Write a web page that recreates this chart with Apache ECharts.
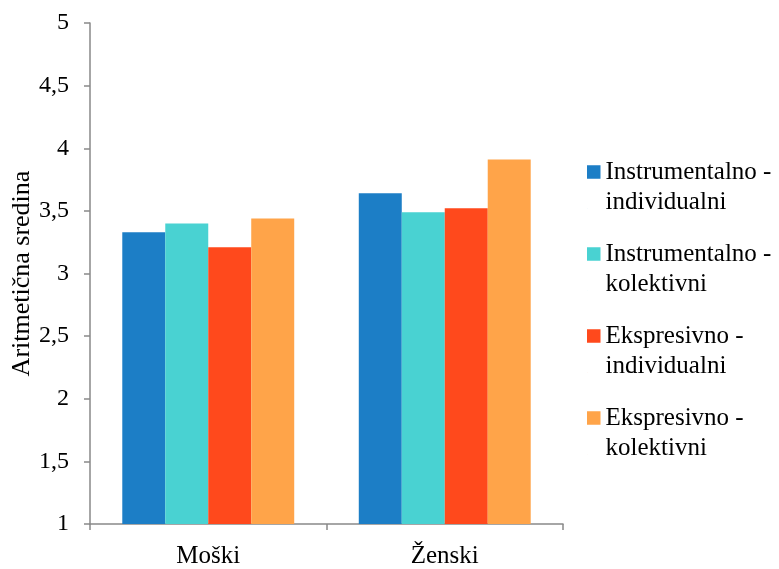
<!DOCTYPE html>
<html>
<head>
<meta charset="utf-8">
<script src="https://cdn.jsdelivr.net/npm/echarts@6/dist/echarts.min.js"></script>
<style>html,body{margin:0;padding:0;background:#fff}#c{width:779px;height:569px}</style>
</head>
<body>
<div id="c"></div>
<script>
const categories = ['Moški', 'Ženski'];
const seriesNames = ['Instrumentalno -\nindividualni', 'Instrumentalno -\nkolektivni', 'Ekspresivno -\nindividualni', 'Ekspresivno -\nkolektivni'];
const instrIndividualni = [3.33, 3.64];
const instrKolektivni = [3.40, 3.49];
const ekspIndividualni = [3.21, 3.52];
const ekspKolektivni = [3.44, 3.91];
const colors = ['#1C7EC6', '#49D2D2', '#FF491C', '#FFA449'];
const yAxisName = 'Aritmetična sredina';

const FONT = '"Liberation Serif", "Times New Roman", serif';
const values = [instrIndividualni, instrKolektivni, ekspIndividualni, ekspKolektivni];
const chart = echarts.init(document.getElementById('c'), null, {renderer: 'canvas'});
const axisColor = '#898989';
chart.setOption({
  animation: false,
  grid: {left: 90, right: 216, top: 23, bottom: 45, containLabel: false, outerBoundsMode: 'none'},
  legend: {
    orient: 'vertical', left: 582, top: 152,
    itemWidth: 13.5, itemHeight: 43.5, itemGap: 22,
    icon: 'path://M0,0h10v10h-10z M0,32.1h0.1v0.1h-0.1z',
    textStyle: {fontFamily: FONT, fontSize: 25, color: '#000', lineHeight: 30},
    data: seriesNames
  },
  xAxis: {
    type: 'category', data: categories,
    axisLine: {lineStyle: {color: axisColor, width: 1.5}},
    axisTick: {show: true, length: 6, lineStyle: {color: axisColor, width: 1.5}},
    axisLabel: {fontFamily: FONT, fontSize: 25, color: '#000', margin: 20}
  },
  yAxis: {
    type: 'value', min: 1, max: 5, interval: 0.5,
    name: yAxisName, nameLocation: 'middle', nameGap: 55, nameRotate: 90,
    nameMoveOverlap: false,
    nameTextStyle: {fontFamily: FONT, fontSize: 26, color: '#000'},
    splitLine: {show: false},
    axisLine: {show: true, lineStyle: {color: axisColor, width: 1.5}},
    axisTick: {show: true, length: 6, lineStyle: {color: axisColor, width: 1.5}},
    axisLabel: {fontFamily: FONT, fontSize: 24, color: '#000', margin: 21,
      formatter: v => String(v).replace('.', ',')}
  },
  series: seriesNames.map((n, i) => ({
    name: n, type: 'bar', data: values[i],
    barGap: '0%', barCategoryGap: '27.3%',
    itemStyle: {color: colors[i]}
  }))
});
</script>
</body>
</html>
